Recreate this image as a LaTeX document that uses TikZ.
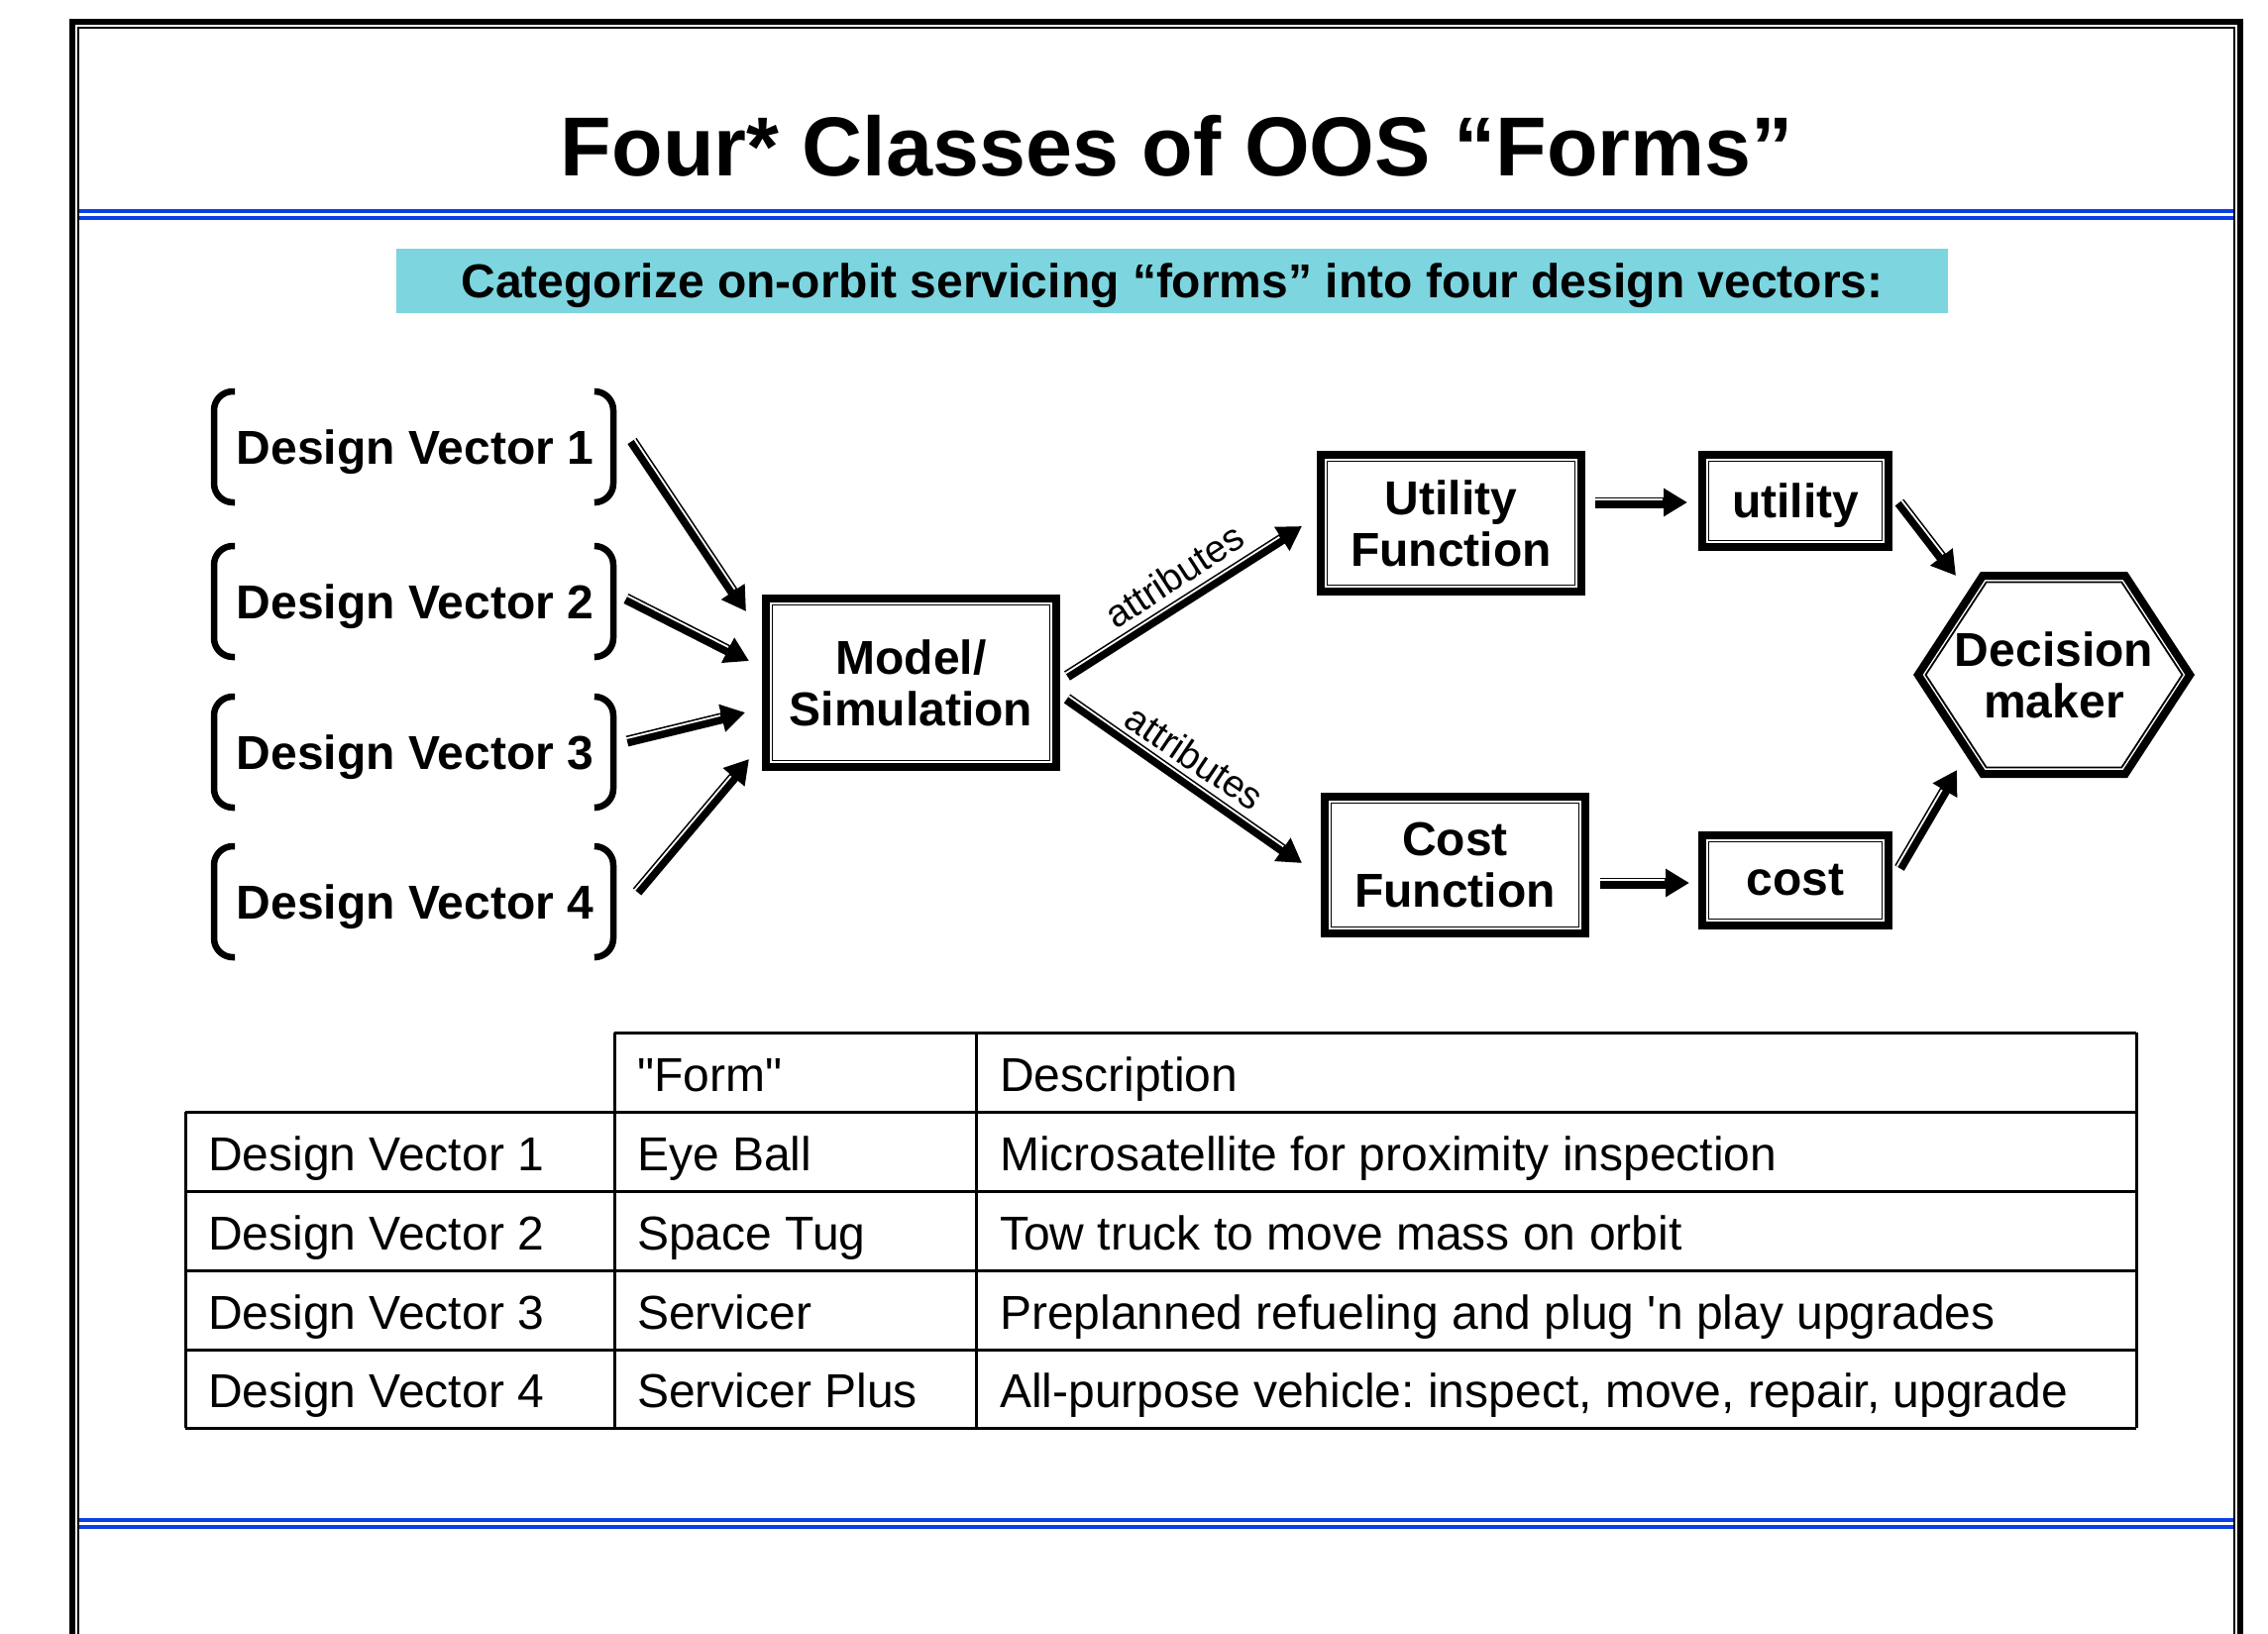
\documentclass[tikz,border=0pt]{standalone}
\usepackage{fontspec}
\setmainfont{Liberation Sans}
\usetikzlibrary{arrows.meta,calc}
\definecolor{bannercyan}{RGB}{125,213,223}
\definecolor{rulblue}{RGB}{12,64,230}
\newcommand\dblconn[2]{%
  \draw[dblarr] (#1) -- (#2);
  \draw[white, line width=1.8pt, shorten >=25pt] ($(#1)!3pt!90:(#2)$) -- ($(#2)!3pt!-90:(#1)$);
}
\begin{document}
\frenchspacing
\begin{tikzpicture}[x=1pt,y=-1pt,
  box/.style={draw, line width=8pt, inner sep=0pt, outer sep=0pt, align=center,
    font=\fontsize{48}{52}\selectfont\bfseries},
  innerline/.style={line width=1.8pt},
  dblarr/.style={line width=11pt, -{Triangle[length=24pt,width=27pt]}},
  dvtext/.style={font=\fontsize{48}{52}\selectfont\bfseries, inner sep=0pt, anchor=base},
  celltext/.style={font=\fontsize{48}{52}\selectfont\frenchspacing, inner sep=0pt, anchor=base west},
  attr/.style={font=\fontsize{38.5}{40}\selectfont, inner sep=0pt},
  brk/.style={line width=6.5pt, rounded corners=19pt},
  tbl/.style={line width=3pt}]
\useasboundingbox (0,0) rectangle (2289,1649);
% frame
\draw[line width=6pt] (73,1649) -- (73,22) -- (2261,22) -- (2261,1649);
\draw[line width=2pt] (79,1649) -- (79,28) -- (2255,28) -- (2255,1649);
% blue rules
\draw[rulblue, line width=4pt] (80,213) -- (2254,213);
\draw[rulblue, line width=4pt] (80,220) -- (2254,220);
\draw[rulblue, line width=4pt] (80,1534) -- (2254,1534);
\draw[rulblue, line width=4pt] (80,1541) -- (2254,1541);
% title
\node[font=\fontsize{84.5}{90}\selectfont\bfseries, anchor=base, inner sep=0pt] (title) at (1188,177) {Four* Classes of OOS “Forms”};
% banner
\node[fill=bannercyan, minimum width=1566pt, minimum height=65pt, inner sep=0pt] (banner) at (1183,283.5) {};
\node[font=\fontsize{48}{52}\selectfont\bfseries, anchor=base, inner sep=0pt] (bannertext) at (1183,300) {Categorize on-orbit servicing “forms” into four design vectors:};
% design vectors
\node[dvtext] (dv1) at (419,468) {Design Vector 1};
\node[dvtext] (dv2) at (419,624) {Design Vector 2};
\node[dvtext] (dv3) at (419,776) {Design Vector 3};
\node[dvtext] (dv4) at (419,927) {Design Vector 4};
\foreach \c in {451,607,759,910} {
  \draw[brk] (237,\c-56) -- (216,\c-56) -- (216,\c+56) -- (237,\c+56);
  \draw[brk] (601,\c-56) -- (619,\c-56) -- (619,\c+56) -- (601,\c+56);
}
% boxes
\node[box, minimum width=293pt, minimum height=170pt] (model) at (919.5,689) {Model/\\Simulation};
\node[box, minimum width=263pt, minimum height=138pt] (uf) at (1464.5,528) {Utility\\Function};
\node[box, minimum width=188pt, minimum height=93pt, text height=35pt, text depth=2pt] (ut) at (1812,505.5) {utility};
\node[box, minimum width=263pt, minimum height=138pt] (cf) at (1468.5,873) {Cost\\Function};
\node[box, minimum width=188pt, minimum height=91pt] (co) at (1812,888.5) {cost};
\foreach \n in {model,uf,ut,cf,co} {
  \draw[innerline] ([shift={(6.5,6.5)}]\n.north west) rectangle ([shift={(-6.5,-6.5)}]\n.south east);
}
% decision maker hexagon
\node[inner sep=0pt, align=center, font=\fontsize{48}{52}\selectfont\bfseries] (dm) at (2073,681) {Decision\\maker};
\draw[line width=8pt, line join=miter] ($(dm)+(-137.2,0)$) -- ($(dm)+(-71.9,-100)$) -- ($(dm)+(71.9,-100)$) -- ($(dm)+(137.2,0)$) -- ($(dm)+(71.9,100)$) -- ($(dm)+(-71.9,100)$) -- cycle;
\draw[innerline] ($(dm)+(-129.5,0)$) -- ($(dm)+(-68.3,-93.5)$) -- ($(dm)+(68.3,-93.5)$) -- ($(dm)+(129.5,0)$) -- ($(dm)+(68.3,93.5)$) -- ($(dm)+(-68.3,93.5)$) -- cycle;
% connector end points
\coordinate (d1o) at (638,445);  \coordinate (m1) at (753,617);
\coordinate (d2o) at (632,604);  \coordinate (m2) at (756,667);
\coordinate (d3o) at (633,748);  \coordinate (m3) at (752,719);
\coordinate (d4o) at (643,900);  \coordinate (m4) at (756,766);
\coordinate (mu) at (1077,682);  \coordinate (ufi) at (1314,531);
\coordinate (mc) at (1077,705);  \coordinate (cfi) at (1314,871);
\coordinate (ufo) at (1610,507); \coordinate (uti) at (1703,507);
\coordinate (cfo) at (1615,891); \coordinate (coi) at (1705,891);
\coordinate (uto) at (1917,507); \coordinate (dmu) at (1974,581);
\coordinate (coo) at (1917,876); \coordinate (dmc) at (1975,777);
\dblconn{d1o}{m1}
\dblconn{d2o}{m2}
\dblconn{d3o}{m3}
\dblconn{d4o}{m4}
\dblconn{mu}{ufi}
\dblconn{mc}{cfi}
\dblconn{ufo}{uti}
\dblconn{cfo}{coi}
\dblconn{uto}{dmu}
\dblconn{coo}{dmc}
\node[attr, rotate=33] (at1) at (1185,581) {attributes};
\node[attr, rotate=-34] (at2) at (1206,764) {attributes};
% table
\draw[tbl] (620,1042) -- (2156,1042);
\foreach \yy in {1122,1202,1282,1362,1441} { \draw[tbl] (187,\yy) -- (2156,\yy); }
\draw[tbl] (187,1122) -- (187,1441);
\draw[tbl] (620,1042) -- (620,1441);
\draw[tbl] (985,1042) -- (985,1441);
\draw[tbl] (2156,1042) -- (2156,1441);
\node[celltext] (h2) at (643,1101) {\textquotedbl Form\textquotedbl};
\node[celltext] (h3) at (1009,1101) {Description};
\node[celltext] (r1a) at (210,1181) {Design Vector 1};
\node[celltext] (r1b) at (643,1181) {Eye Ball};
\node[celltext] (r1c) at (1009,1181) {Microsatellite for proximity inspection};
\node[celltext] (r2a) at (210,1261) {Design Vector 2};
\node[celltext] (r2b) at (643,1261) {Space Tug};
\node[celltext] (r2c) at (1009,1261) {Tow truck to move mass on orbit};
\node[celltext] (r3a) at (210,1341) {Design Vector 3};
\node[celltext] (r3b) at (643,1341) {Servicer};
\node[celltext] (r3c) at (1009,1341) {Preplanned refueling and plug \textquotesingle n play upgrades};
\node[celltext] (r4a) at (210,1420) {Design Vector 4};
\node[celltext] (r4b) at (643,1420) {Servicer Plus};
\node[celltext] (r4c) at (1009,1420) {All-purpose vehicle: inspect, move, repair, upgrade};
\end{tikzpicture}
\end{document}
